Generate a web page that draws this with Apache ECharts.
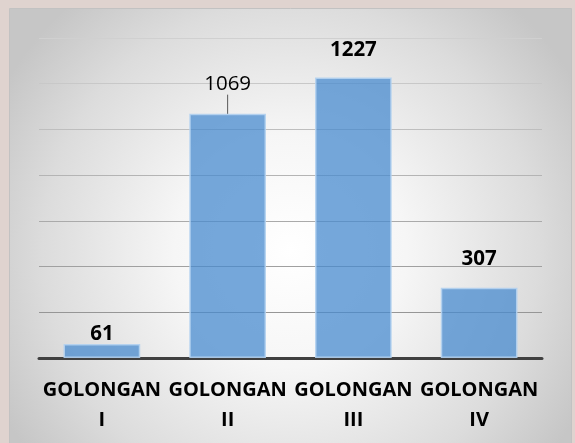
<!DOCTYPE html>
<html>
<head>
<meta charset="utf-8">
<script src="https://cdn.jsdelivr.net/npm/echarts@6/dist/echarts.min.js"></script>
<style>
html,body{margin:0;padding:0;background:#dfd3cf;}
#chart{width:575px;height:443px;}
</style>
</head>
<body>
<div id="chart"></div>
<script>
const categories = ['GOLONGAN\nI', 'GOLONGAN\nII', 'GOLONGAN\nIII', 'GOLONGAN\nIV'];
const values = [61, 1069, 1227, 307];
const labelBold = [true, false, true, true];
const labelGap = [-1, 5, 17, 18];
const leader = [false, true, false, false];
const yMin = 0, yMax = 1400, yStep = 200;

const chart = echarts.init(document.getElementById('chart'), null, {renderer: 'canvas'});
const seriesData = values.map((v, i) => ({
  value: v,
  label: {
    fontWeight: labelBold[i] ? 'bold' : 'normal',
    distance: labelGap[i]
  },
  labelLine: {show: leader[i]}
}));

chart.setOption({
  animation: false,
  backgroundColor: '#dfd3cf',
  graphic: [{
    type: 'rect',
    z: -100,
    left: 9, top: 8,
    shape: {width: 562, height: 440},
    style: {
      fill: new echarts.graphic.RadialGradient(0.5, 0.55, 0.75, [
        {offset: 0, color: '#ffffff'},
        {offset: 0.35, color: '#f6f6f6'},
        {offset: 0.75, color: '#dcdcdc'},
        {offset: 1, color: '#c6c6c6'}
      ]),
      stroke: '#c2c2c2',
      lineWidth: 1
    }
  }],
  grid: {left: 39, right: 33, top: 38, bottom: 85},
  xAxis: {
    type: 'category',
    data: categories,
    axisTick: {show: false},
    axisLine: {show: true, lineStyle: {color: '#404040', width: 3}},
    axisLabel: {
      interval: 0,
      margin: 17,
      color: '#000',
      fontFamily: 'Open Sans',
      fontWeight: 'bold',
      fontSize: 20,
      lineHeight: 30
    }
  },
  yAxis: {
    type: 'value',
    min: yMin, max: yMax, interval: yStep,
    axisLabel: {show: false},
    axisLine: {show: false},
    axisTick: {show: false},
    splitLine: {
      show: true,
      lineStyle: {
        width: 1.2,
        color: ['#9a9a9a', '#969696', '#a0a0a0', '#aaaaaa', '#b4b4b4', '#bebebe', '#c8c8c8', '#d0d0d0']
      }
    }
  },
  series: [{
    type: 'bar',
    data: seriesData,
    barCategoryGap: '39%',
    itemStyle: {
      color: 'rgba(70,138,206,0.74)',
      borderColor: 'rgba(180,210,240,0.9)',
      borderWidth: 1.5
    },
    label: {
      show: true,
      position: 'top',
      color: '#000',
      fontFamily: 'Open Sans',
      fontSize: 20.5
    },
    labelLayout: function (params) {
      return params.dataIndex === 1 ? {dy: -14} : {};
    },
    labelLine: {
      show: false,
      lineStyle: {color: '#595959', width: 1}
    }
  }]
});
</script>
</body>
</html>
